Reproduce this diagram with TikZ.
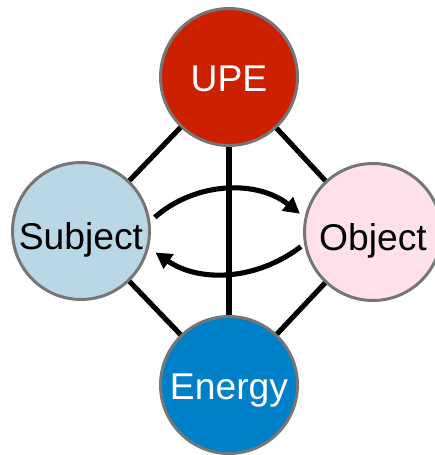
\documentclass[tikz,border=0pt]{standalone}
\usepackage{fontspec}
\setmainfont{Liberation Sans}
\usetikzlibrary{arrows.meta}
\definecolor{upered}{RGB}{204,32,0}
\definecolor{subjblue}{RGB}{186,215,230}
\definecolor{objpink}{RGB}{255,225,238}
\definecolor{energyblue}{RGB}{0,128,200}
\definecolor{rimgray}{RGB}{118,118,118}

\begin{document}
\begin{tikzpicture}[x=0.02cm, y=-0.02cm,
  ball/.style={circle, draw=rimgray, line width=1.7pt, minimum size=2.74cm, inner sep=0pt, text depth=0pt, font=\fontsize{21.2}{25}\selectfont},
  link/.style={line width=2.9pt},
  swap/.style={-{Triangle[length=0.32cm, width=0.34cm]}, line width=2.9pt}
]
\useasboundingbox (0,0) rectangle (434,455);
\node[ball, fill=upered, text=white, text height=16pt] (upe) at (229,77) {UPE};
\node[ball, fill=subjblue, text height=21pt] (subj) at (81,231) {Subject};
\node[ball, fill=objpink, text height=21pt] (obj) at (373,232) {Object};
\node[ball, fill=energyblue, text=white, text height=17pt] (energy) at (229,385) {Energy};
\draw[link] (upe) -- (subj);
\draw[link] (upe) -- (obj);
\draw[link] (upe) -- (energy);
\draw[link] (subj) -- (energy);
\draw[link] (obj) -- (energy);
\draw[swap, shorten <=0.12cm, shorten >=0.12cm] (subj.8) to[bend left=40] (obj.168);
\draw[swap, shorten <=0.08cm, shorten >=0.16cm] (obj.190) to[bend left=36] (subj.-14);
\end{tikzpicture}
\end{document}
